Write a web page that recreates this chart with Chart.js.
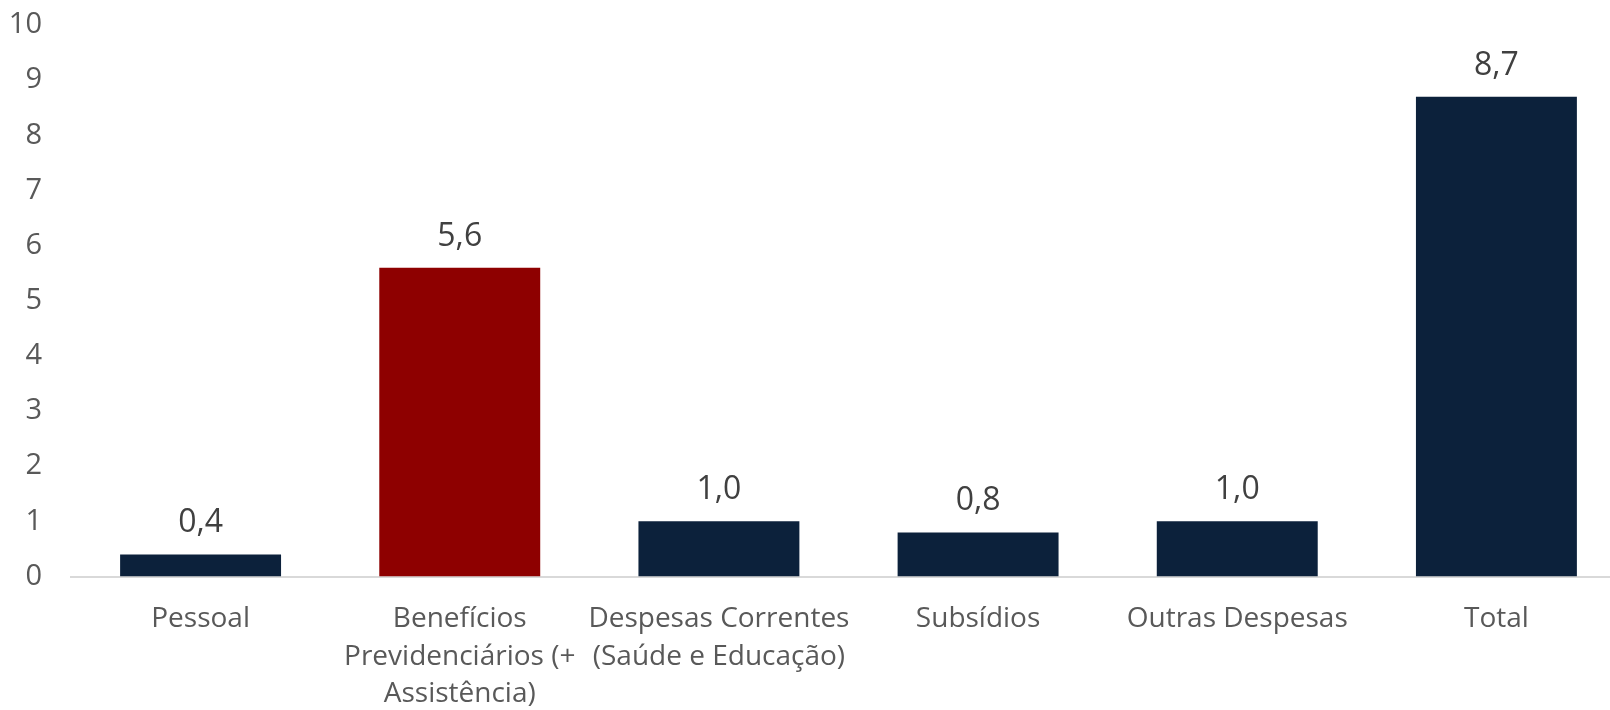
<!DOCTYPE html>
<html>
<head>
<meta charset="utf-8">
<script src="https://cdn.jsdelivr.net/npm/chart.js@4"></script>
<style>
html,body{margin:0;padding:0;background:#fff;overflow:hidden;}
#wrap{width:1610px;height:710px;overflow:hidden;}
</style>
</head>
<body>
<div id="wrap"><canvas id="c" width="1626" height="710"></canvas></div>
<script>
const categories = [
  ["Pessoal"],
  ["Benefícios", "Previdenciários (+", "Assistência)"],
  ["Despesas Correntes", "(Saúde e Educação)"],
  ["Subsídios"],
  ["Outras Despesas"],
  ["Total"]
];
const values = [0.4, 5.6, 1.0, 0.8, 1.0, 8.7];
const barColors = ["#0C213B", "#8E0000", "#0C213B", "#0C213B", "#0C213B", "#0C213B"];
const yTicks = [0,1,2,3,4,5,6,7,8,9,10];

const labelPlugin = {
  id: 'valueLabels',
  afterDatasetsDraw(chart) {
    const ctx = chart.ctx;
    const meta = chart.getDatasetMeta(0);
    ctx.save();
    ctx.font = '32px "Open Sans"';
    ctx.fillStyle = '#404040';
    ctx.textAlign = 'center';
    ctx.textBaseline = 'alphabetic';
    meta.data.forEach((bar, i) => {
      const txt = values[i].toFixed(1).replace('.', ',');
      ctx.fillText(txt, bar.x, bar.y - 22);
    });
    ctx.restore();
  }
};

new Chart(document.getElementById('c'), {
  type: 'bar',
  data: {
    labels: categories,
    datasets: [{
      data: values,
      backgroundColor: barColors,
      borderWidth: 0,
      barPercentage: 0.621,
      categoryPercentage: 1.0
    }]
  },
  options: {
    responsive: false,
    animation: false,
    devicePixelRatio: 1,
    layout: { padding: { top: 25, right: 0, left: 0, bottom: 0 } },
    plugins: { legend: { display: false }, tooltip: { enabled: false } },
    scales: {
      x: {
        afterFit(scale) { scale.height = 133.5; },
        grid: { display: false, drawTicks: false },
        border: { display: true, color: '#D9D9D9', width: 2 },
        ticks: {
          color: '#595959',
          font: { family: 'Open Sans', size: 28, lineHeight: 1.34 },
          maxRotation: 0,
          autoSkip: false,
          padding: 24
        }
      },
      y: {
        min: 0, max: 10,
        afterBuildTicks(axis) { axis.ticks = yTicks.map(v => ({ value: v })); },
        afterFit(scale) {
          scale.width = 71;
          scale.paddingTop = 0;
          scale.paddingBottom = 0;
        },
        grid: { display: false, drawTicks: false },
        border: { display: false },
        ticks: {
          color: '#595959',
          font: { family: 'Open Sans', size: 29 },
          padding: 29
        }
      }
    }
  },
  plugins: [labelPlugin]
});
</script>
</body>
</html>
